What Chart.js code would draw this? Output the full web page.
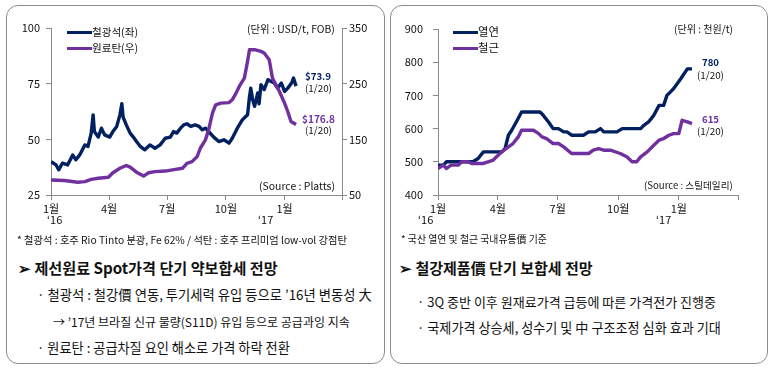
<!DOCTYPE html>
<html>
<head>
<meta charset="utf-8">
<script src="https://cdn.jsdelivr.net/npm/chart.js@4.4.1/dist/chart.umd.min.js"></script>
<style>
body { margin:0; width:774px; height:373px; background:#fff; position:relative; overflow:hidden;
       font-family:"Noto Sans CJK KR", sans-serif; color:#111; }
.box { position:absolute; border:1px solid #8c8c8c; border-radius:12px; }
.t { position:absolute; white-space:nowrap; line-height:1; transform:translateY(-50%); }
.navy { color:#002060; }
.purple { color:#7030a0; }
.b { font-weight:bold; }
.leg { position:absolute; height:3px; }
canvas { position:absolute; top:0; }
</style>
</head>
<body>
<div class="box" style="left:6px;top:5px;width:377px;height:357px"></div>
<div class="box" style="left:390px;top:5px;width:376px;height:357px"></div>

<canvas id="leftChart" width="383" height="228" style="left:0"></canvas>
<canvas id="rightChart" width="382" height="228" style="left:388px"></canvas>

<!-- 왼쪽 차트 텍스트 -->
<div class="leg" style="left:67px;top:31px;width:25px;background:#002060"></div>
<div class="leg" style="left:67px;top:47px;width:25px;background:#7030a0"></div>
<div class="t" style="left:92px;top:32px;font-size:12px" data-w="46">철광석(좌)</div>
<div class="t" style="left:92px;top:48px;font-size:12px" data-w="46">원료탄(우)</div>
<div class="t" style="left:247px;top:29px;font-size:10.5px" data-w="88">(단위 : USD/t, FOB)</div>
<div class="t" style="left:259px;top:186px;font-size:10.5px" data-w="76">(Source : Platts)</div>
<div class="t b navy" style="left:305px;top:77px;font-size:13px" data-w="26">$73.9</div>
<div class="t" style="left:305px;top:89px;font-size:11px" data-w="27">(1/20)</div>
<div class="t b purple" style="left:302px;top:119px;font-size:13px" data-w="33">$176.8</div>
<div class="t" style="left:305px;top:131px;font-size:11px" data-w="27">(1/20)</div>
<div class="t" style="left:47px;top:219px;font-size:11px">‘16</div>
<div class="t" style="left:258px;top:219px;font-size:11px">‘17</div>
<div class="t" style="left:17px;top:240px;font-size:9.5px" data-w="330">* 철광석 : 호주 Rio Tinto 분광, Fe 62% / 석탄 : 호주 프리미엄 low-vol 강점탄</div>

<!-- 오른쪽 차트 텍스트 -->
<div class="leg" style="left:453px;top:31px;width:25px;background:#002060"></div>
<div class="leg" style="left:453px;top:47px;width:25px;background:#7030a0"></div>
<div class="t" style="left:478px;top:32px;font-size:12px" data-w="21">열연</div>
<div class="t" style="left:478px;top:48px;font-size:12px" data-w="21">철근</div>
<div class="t" style="left:674px;top:29px;font-size:10.5px" data-w="59">(단위 : 천원/t)</div>
<div class="t" style="left:644px;top:186px;font-size:10.5px" data-w="89">(Source : 스틸데일리)</div>
<div class="t b navy" style="left:702px;top:63px;font-size:13px" data-w="17">780</div>
<div class="t" style="left:697px;top:76px;font-size:11px" data-w="27">(1/20)</div>
<div class="t b purple" style="left:702px;top:120px;font-size:13px" data-w="17">615</div>
<div class="t" style="left:697px;top:132px;font-size:11px" data-w="27">(1/20)</div>
<div class="t" style="left:418px;top:219px;font-size:11px">‘16</div>
<div class="t" style="left:656px;top:219px;font-size:11px">‘17</div>
<div class="t" style="left:401px;top:240px;font-size:9.5px" data-w="146">* 국산 열연 및 철근 국내유통價 기준</div>

<!-- 하단 설명 -->
<div class="t b" style="left:18px;top:268px;font-size:16px" data-w="259">➢ 제선원료 Spot가격 단기 약보합세 전망</div>
<div class="t" style="left:37px;top:295px;font-size:13px" data-w="335">· 철광석 : 철강價 연동, 투기세력 유입 등으로 ’16년 변동성 大</div>
<div class="t" style="left:53px;top:322px;font-size:11.5px" data-w="297">→ ’17년 브라질 신규 물량(S11D) 유입 등으로 공급과잉 지속</div>
<div class="t" style="left:37px;top:348px;font-size:13px" data-w="253">· 원료탄 : 공급차질 요인 해소로 가격 하락 전환</div>
<div class="t b" style="left:399px;top:268px;font-size:16px" data-w="193">➢ 철강제품價 단기 보합세 전망</div>
<div class="t" style="left:417px;top:302px;font-size:13px" data-w="299">· 3Q 중반 이후 원재료가격 급등에 따른 가격전가 진행중</div>
<div class="t" style="left:417px;top:328px;font-size:13px" data-w="304">· 국제가격 상승세, 성수기 및 中 구조조정 심화 효과 기대</div>

<script>
// 날짜 = 2016.1.1 기준 경과일
const xTickDays = [0, 91, 182, 274, 366, 456];
const xTickLabels = ['1월', '4월', '7월', '10월', '1월', ''];

// 철광석 (USD/t, 좌축)
const ironDays = [0, 8, 12, 18, 26, 34, 39, 45, 53, 58, 63, 66, 68, 74, 79, 84, 92, 97, 103, 108, 111, 113, 118, 124, 129, 134, 140, 147, 155, 163, 171, 179, 187, 192, 197, 203, 208, 213, 219, 226, 232, 237, 242, 247, 255, 263, 271, 279, 284, 292, 300, 308, 311, 313, 316, 319, 324, 326, 329, 334, 340, 345, 350, 355, 361, 366, 371, 377, 380, 384];
const ironOre = [40, 38.5, 36.3, 39.3, 38.5, 43, 40.8, 43, 47.5, 46.8, 52.8, 61, 53.5, 51, 55, 52, 51, 53.5, 55.8, 61, 66, 60, 56.5, 52.8, 51, 49, 46.8, 45.3, 47.5, 46, 47.5, 50.5, 51, 53.5, 52.8, 55, 56.5, 57, 55.8, 56.5, 55.8, 54.3, 55, 53.5, 51, 49, 49.8, 48.3, 50.5, 55, 58.8, 61, 69, 73, 67.8, 64.8, 70.8, 66, 74.5, 72.3, 76.8, 76, 75.3, 73, 75.3, 71.5, 73, 75.3, 77.5, 73.9];

// 원료탄 (USD/t, 우축)
const coalDays = [0, 21, 42, 53, 63, 74, 90, 97, 108, 118, 124, 134, 145, 153, 163, 179, 195, 206, 213, 221, 229, 234, 242, 247, 253, 258, 266, 279, 284, 290, 295, 303, 308, 311, 319, 329, 334, 342, 347, 358, 366, 371, 376, 384];
const cokingCoal = [77, 76, 73, 74, 78, 80, 82, 90, 98, 103, 100, 91, 84, 90, 92, 93, 96, 98, 107, 110, 119, 134, 149, 167, 197, 212, 215, 216, 221, 233, 245, 260, 290, 311, 311, 308, 305, 293, 260, 236, 215, 200, 182, 176.8];

// 열연 (천원/t)
const hrcDays = [0, 8, 13, 53, 61, 69, 97, 102, 107, 112, 119, 127, 155, 160, 168, 175, 183, 191, 196, 203, 221, 229, 239, 247, 252, 272, 280, 308, 313, 320, 328, 336, 343, 348, 353, 358, 369, 379, 386];
const hotRolled = [490, 490, 500, 500, 510, 530, 530, 540, 580, 595, 620, 650, 650, 640, 620, 600, 600, 590, 590, 580, 580, 590, 590, 600, 590, 590, 600, 600, 610, 620, 640, 670, 670, 700, 710, 720, 750, 780, 780];

// 철근 (천원/t)
const rebarDays = [0, 8, 13, 20, 31, 36, 46, 51, 69, 76, 84, 89, 97, 107, 114, 122, 127, 145, 153, 158, 165, 175, 183, 191, 203, 229, 236, 244, 252, 262, 277, 287, 295, 302, 308, 318, 328, 336, 343, 351, 358, 366, 371, 379, 386];
const rebar = [480, 490, 480, 490, 490, 500, 500, 495, 495, 500, 505, 515, 530, 545, 555, 575, 595, 595, 585, 575, 570, 555, 555, 545, 525, 525, 535, 540, 535, 535, 525, 515, 500, 500, 515, 530, 550, 565, 570, 580, 585, 585, 625, 620, 615];

const NAVY = '#002060';
const PURPLE = '#7030a0';
const AXIS = '#8a8a8a';
const TICK_FONT = { family: "'Noto Sans CJK KR', sans-serif", size: 11 };

function pts(days, vals) {
    return days.map((d, i) => ({ x: d, y: vals[i] }));
}

function lineSet(days, vals, color, axis) {
    return {
        data: pts(days, vals),
        borderColor: color,
        borderWidth: 3.4,
        pointRadius: 0,
        tension: 0,
        borderJoinStyle: 'round',
        yAxisID: axis
    };
}

function xAxis() {
    return {
        type: 'linear',
        min: 0,
        max: 456,
        afterBuildTicks: s => { s.ticks = xTickDays.map(v => ({ value: v })); },
        afterFit: s => { s.height = 33; },
        ticks: {
            autoSkip: false,
            maxRotation: 0,
            padding: 2,
            color: '#111',
            font: TICK_FONT,
            callback: (v, i) => xTickLabels[i]
        },
        grid: { drawOnChartArea: false, tickLength: 5, color: AXIS },
        border: { color: AXIS }
    };
}

function yAxis(min, max, step, pos, width, pad) {
    return {
        position: pos,
        min: min,
        max: max,
        afterFit: s => { s.width = width; },
        ticks: { stepSize: step, padding: pad, color: '#111', font: TICK_FONT },
        grid: { drawOnChartArea: false, tickLength: 5, color: AXIS },
        border: { color: AXIS }
    };
}

const common = {
    responsive: false,
    animation: false,
    plugins: { legend: { display: false }, tooltip: { enabled: false } }
};

// 철광석 / 원료탄
new Chart(document.getElementById('leftChart'), {
    type: 'line',
    data: {
        datasets: [
            lineSet(coalDays, cokingCoal, PURPLE, 'y1'),
            lineSet(ironDays, ironOre, NAVY, 'y')
        ]
    },
    options: Object.assign({}, common, {
        layout: { padding: { top: 28, left: 0, right: 0, bottom: 0 } },
        scales: {
            x: xAxis(),
            y: yAxis(25, 100, 25, 'left', 51, 6),
            y1: yAxis(50, 350, 100, 'right', 41, 2)
        }
    })
});

// 열연 / 철근
new Chart(document.getElementById('rightChart'), {
    type: 'line',
    data: {
        datasets: [
            lineSet(rebarDays, rebar, PURPLE, 'y'),
            lineSet(hrcDays, hotRolled, NAVY, 'y')
        ]
    },
    options: Object.assign({}, common, {
        layout: { padding: { top: 29, left: 0, right: 32, bottom: 0 } },
        scales: {
            x: xAxis(),
            y: yAxis(400, 900, 100, 'left', 50, 10)
        }
    })
});

// 텍스트 폭 맞추기
document.querySelectorAll('[data-w]').forEach(el => {
    const target = +el.dataset.w;
    const w = el.getBoundingClientRect().width;
    if (w > 0) {
        const fs = parseFloat(getComputedStyle(el).fontSize);
        el.style.fontSize = (fs * target / w).toFixed(2) + 'px';
    }
});
</script>
</body>
</html>
